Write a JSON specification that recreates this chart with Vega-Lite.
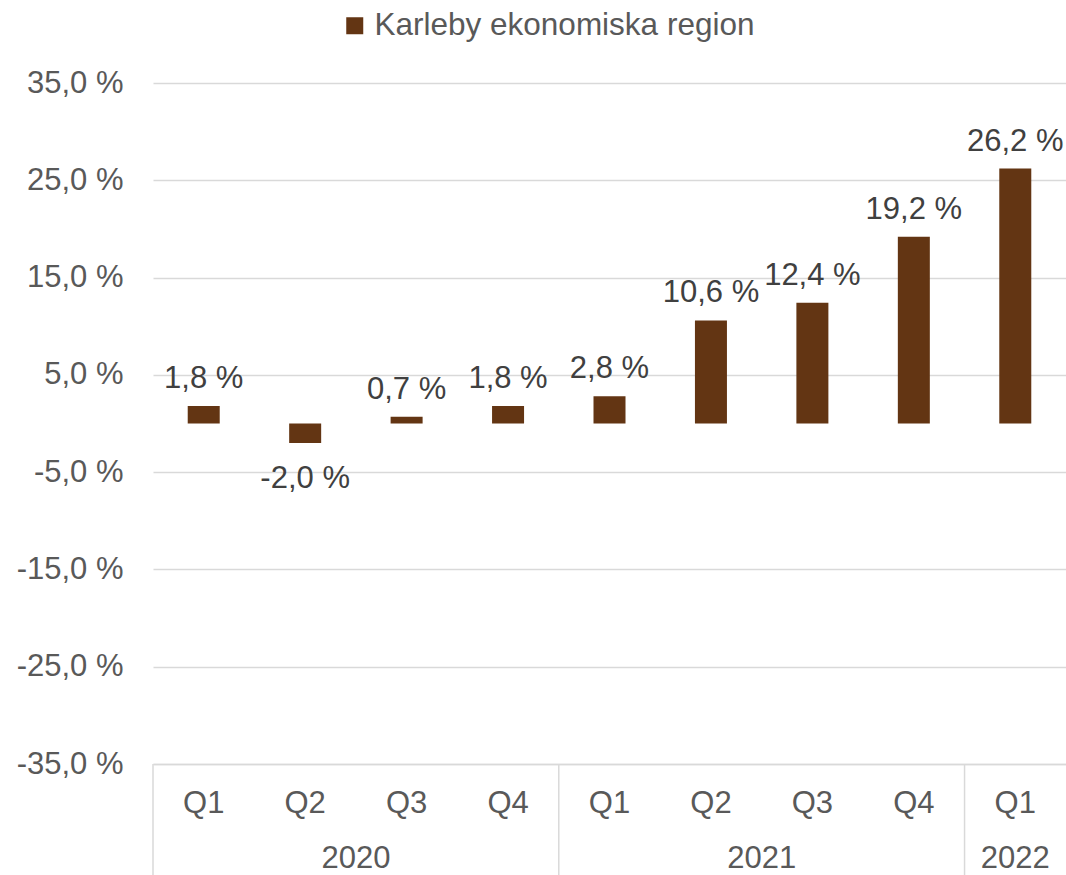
{
  "$schema": "https://vega.github.io/schema/vega-lite/v6.json",
  "autosize": {"type": "none"},
  "padding": {"left": 153, "top": 83, "right": 0, "bottom": 111},
  "width": 913,
  "height": 681,
  "background": "white",
  "config": {
    "font": "Liberation Sans",
    "view": {"stroke": null}
  },
  "data": {
    "values": [
      {"period": "2020 Q1", "year": "2020", "quarter": "Q1", "value": 1.8, "region": "Karleby ekonomiska region"},
      {"period": "2020 Q2", "year": "2020", "quarter": "Q2", "value": -2.0, "region": "Karleby ekonomiska region"},
      {"period": "2020 Q3", "year": "2020", "quarter": "Q3", "value": 0.7, "region": "Karleby ekonomiska region"},
      {"period": "2020 Q4", "year": "2020", "quarter": "Q4", "value": 1.8, "region": "Karleby ekonomiska region"},
      {"period": "2021 Q1", "year": "2021", "quarter": "Q1", "value": 2.8, "region": "Karleby ekonomiska region"},
      {"period": "2021 Q2", "year": "2021", "quarter": "Q2", "value": 10.6, "region": "Karleby ekonomiska region"},
      {"period": "2021 Q3", "year": "2021", "quarter": "Q3", "value": 12.4, "region": "Karleby ekonomiska region"},
      {"period": "2021 Q4", "year": "2021", "quarter": "Q4", "value": 19.2, "region": "Karleby ekonomiska region"},
      {"period": "2022 Q1", "year": "2022", "quarter": "Q1", "value": 26.2, "region": "Karleby ekonomiska region"}
    ]
  },
  "encoding": {
    "x": {
      "field": "period", "type": "nominal", "sort": null,
      "scale": {"type": "band", "paddingInner": 0, "paddingOuter": 0},
      "axis": {
        "title": null, "orient": "bottom", "labelAngle": 0,
        "labelExpr": "split(datum.value, ' ')[1]",
        "ticks": false, "tickSize": 0, "domain": true, "domainColor": "#d9d9d9", "domainWidth": 1.5,
        "grid": false, "labelFontSize": 31, "labelColor": "#595959", "labelPadding": 24,
        "labelBaseline": "top"
      }
    }
  },
  "layer": [
    {
      "mark": {"type": "rule", "color": "#d9d9d9", "strokeWidth": 1.5},
      "encoding": {"y": {"datum": 0, "type": "quantitative"}}
    },
    {
      "mark": {"type": "bar", "width": 32, "color": "#633513"},
      "encoding": {
        "y": {
          "field": "value", "type": "quantitative",
          "scale": {"domain": [-35, 35], "nice": false, "zero": false},
          "axis": {
            "title": null, "values": [-35, -25, -15, -5, 5, 15, 25, 35],
            "labelExpr": "(datum.value < 0 ? '-' : '') + replace(format(abs(datum.value), '.1f'), '.', ',') + ' %'",
            "grid": true, "gridColor": "#d9d9d9", "gridWidth": 1.5,
            "ticks": false, "domain": false, "labelPadding": 30,
            "labelFontSize": 31, "labelColor": "#595959"
          }
        },
        "color": {
          "field": "region", "type": "nominal",
          "scale": {"range": ["#633513"]},
          "legend": {
            "orient": "none", "legendX": 186, "legendY": -73, "title": null,
            "labelFontSize": 31.5, "labelColor": "#595959", "labelLimit": 800, "symbolType": "square",
            "symbolSize": 289, "symbolStrokeWidth": 0, "labelOffset": 4, "padding": 0
          }
        }
      }
    },
    {
      "transform": [{"filter": "datum.value >= 0"}],
      "mark": {"type": "text", "fontSize": 31, "color": "#404040", "baseline": "alphabetic", "dy": -18,
        "text": {"expr": "(datum.value < 0 ? '-' : '') + replace(format(abs(datum.value), '.1f'), '.', ',') + ' %'"}},
      "encoding": {"y": {"field": "value", "type": "quantitative"}}
    },
    {
      "transform": [{"filter": "datum.value < 0"}],
      "mark": {"type": "text", "fontSize": 31, "color": "#404040", "baseline": "alphabetic", "dy": 45,
        "text": {"expr": "(datum.value < 0 ? '-' : '') + replace(format(abs(datum.value), '.1f'), '.', ',') + ' %'"}},
      "encoding": {"y": {"field": "value", "type": "quantitative"}}
    },
    {
      "transform": [{"filter": "datum.quarter == 'Q1'"}],
      "mark": {"type": "rule", "color": "#d9d9d9", "strokeWidth": 1.5},
      "encoding": {
        "x": {"field": "period", "type": "nominal", "sort": null, "bandPosition": 0},
        "y": {"datum": -35, "type": "quantitative"},
        "y2": {"datum": -46.5}
      }
    },
    {
      "transform": [{"filter": "datum.quarter == 'Q3'"}],
      "mark": {"type": "text", "fontSize": 31, "color": "#595959", "baseline": "alphabetic", "dy": 104},
      "encoding": {
        "x": {"field": "period", "type": "nominal", "sort": null, "bandPosition": 0},
        "y": {"datum": -35, "type": "quantitative"},
        "text": {"field": "year"}
      }
    },
    {
      "transform": [{"filter": "datum.year == '2022' && datum.quarter == 'Q1'"}],
      "mark": {"type": "text", "fontSize": 31, "color": "#595959", "baseline": "alphabetic", "dy": 104},
      "encoding": {
        "x": {"field": "period", "type": "nominal", "sort": null, "bandPosition": 0.5},
        "y": {"datum": -35, "type": "quantitative"},
        "text": {"field": "year"}
      }
    }
  ]
}
